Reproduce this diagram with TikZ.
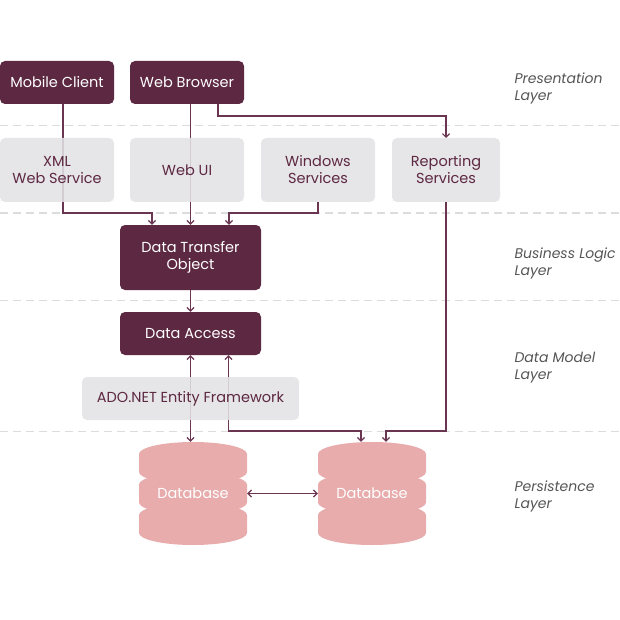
\documentclass[tikz,border=0pt]{standalone}
\usepackage{fontspec}
\setmainfont{Poppins}
\usetikzlibrary{arrows.meta}
\definecolor{dark}{HTML}{5D2841}
\definecolor{lineclr}{HTML}{6A3550}
\definecolor{graybox}{HTML}{E2E1E5}
\definecolor{dbpink}{HTML}{E8ACAC}
\definecolor{sep}{HTML}{DCDCDC}
\definecolor{lbl}{HTML}{555555}
\newcommand\dbseg[2]{%
 \fill[dbpink] ({#1-54},{#2+12}) .. controls ({#1-54},{#2+5.4}) and ({#1-29.8},{#2}) .. ({#1},{#2}) .. controls ({#1+29.8},{#2}) and ({#1+54},{#2+5.4}) .. ({#1+54},{#2+12}) -- ({#1+54},{#2+30}) .. controls ({#1+54},{#2+36.6}) and ({#1+29.8},{#2+42}) .. ({#1},{#2+42}) .. controls ({#1-29.8},{#2+42}) and ({#1-54},{#2+36.6}) .. ({#1-54},{#2+30}) -- cycle;}
\begin{document}
\begin{tikzpicture}[x=1pt,y=-1pt,
  darkbox/.style={fill=dark,text=white,rounded corners=5pt,inner sep=0pt,align=center,font=\fontsize{14.5}{17}\selectfont},
  lightbox/.style={fill=graybox,fill opacity=0.88,text opacity=1,text=dark,rounded corners=5pt,inner sep=0pt,align=center,font=\fontsize{14.5}{17}\selectfont},
  dbnode/.style={minimum width=108pt,minimum height=103pt,inner sep=0pt,text=white,font=\fontsize{14.5}{17}\selectfont},
  layer/.style={anchor=west,align=left,text=lbl,font=\fontsize{14}{17}\selectfont\itshape},
  sepline/.style={draw=sep,line width=1pt,dash pattern=on 8pt off 5pt},
  conn/.style={draw=lineclr,line width=1.2pt,-{Straight Barb[length=3.5pt,width=7pt]}},
  conn2/.style={draw=lineclr,line width=1.2pt,{Straight Barb[length=3.5pt,width=7pt]}-{Straight Barb[length=3.5pt,width=7pt]}}
]
\useasboundingbox (0,0) rectangle (620,620);
% separators
\coordinate (s1a) at (0,126); \coordinate (s1b) at (620,126);
\coordinate (s2a) at (0,213); \coordinate (s2b) at (620,213);
\coordinate (s3a) at (0,300); \coordinate (s3b) at (620,300);
\coordinate (s4a) at (0,431); \coordinate (s4b) at (620,431);
\draw[sepline] (s1a) -- (s1b);
\draw[sepline] (s2a) -- (s2b);
\draw[sepline] (s3a) -- (s3b);
\draw[sepline] (s4a) -- (s4b);
% database shapes
\dbseg{193}{442}\dbseg{193}{472.5}\dbseg{193}{503}
\dbseg{372}{442}\dbseg{372}{472.5}\dbseg{372}{503}
\node[dbnode] (db1) at (193,493.5) {Database};
\node[dbnode] (db2) at (372,493.5) {Database};
\node[darkbox,minimum width=114pt,minimum height=43pt] (mc) at (57,82.5) {Mobile Client};
\node[darkbox,minimum width=114pt,minimum height=43pt] (wb) at (187,82.5) {Web Browser};
\node[darkbox,minimum width=141pt,minimum height=65pt] (dto) at (190.5,257.5) {Data Transfer\\Object};
\node[darkbox,minimum width=141pt,minimum height=43pt] (da) at (190.5,333.5) {Data Access};
% connectors
\coordinate (j1) at (63,213);
\coordinate (j3) at (318,213);
\coordinate (j4) at (218,116);
\coordinate (j5) at (446,431);
\coordinate (j6) at (228.5,431);
\coordinate (rsn) at (446,138);
\coordinate (rss) at (446,202);
\coordinate (wss) at (318,202);
\draw[conn] (mc.south -| j1) -- (j1) -| ([xshift=-38.5pt]dto.north);
\draw[conn] (wb.south -| dto.north) -- (dto.north);
\draw[conn] (wss) -- (j3) -| ([xshift=38.5pt]dto.north);
\draw[conn] (wb.south -| j4) -- (j4) -| (rsn);
\draw[conn] (rss) -- (j5) -| ([xshift=14pt]db2.north);
\draw[conn] (dto.south) -- (da.north);
\draw[conn2] (da.south) -- (da.south |- db1.north);
\draw[conn2] (da.south -| j6) -- (j6) -| ([xshift=-11pt]db2.north);
\draw[conn2] (db1.east) -- (db2.west);
% light boxes (drawn over lines)
\node[lightbox,minimum width=114pt,minimum height=64pt] (xml) at (57,170) {XML\\Web Service};
\node[lightbox,minimum width=114pt,minimum height=64pt] (wui) at (187,170) {Web UI};
\node[lightbox,minimum width=114pt,minimum height=64pt] (ws) at (318,170) {Windows\\Services};
\node[lightbox,minimum width=108pt,minimum height=64pt] (rs) at (446,170) {Reporting\\Services};
\node[lightbox,minimum width=217pt,minimum height=43pt] (ado) at (190.5,398.5) {ADO.NET Entity Framework};
% layer labels
\node[layer] (l1) at (511,88) {Presentation\\Layer};
\node[layer] (l2) at (511,263) {Business Logic\\Layer};
\node[layer] (l3) at (511,368) {Data Model\\Layer};
\node[layer] (l4) at (511,496) {Persistence\\Layer};
\end{tikzpicture}
\end{document}
